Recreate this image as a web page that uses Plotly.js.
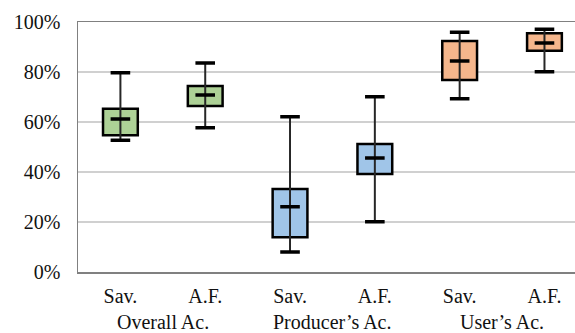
<!DOCTYPE html>
<html>
<head>
<meta charset="utf-8">
<script src="https://cdn.plot.ly/plotly-3.0.1.min.js"></script>
<style>html,body{margin:0;padding:0;background:#fff;}#chart{width:575px;height:333px;}</style>
</head>
<body>
<div id="chart"></div>
<script>
// Data
const groups = ["Overall Ac.", "Producer\u2019s Ac.", "User\u2019s Ac."];
const methods = ["Sav.", "A.F."];
const boxLabels = ["Sav.", "A.F.", "Sav.", "A.F.", "Sav.", "A.F."];
const minVals    = [0.527, 0.577, 0.080, 0.201, 0.693, 0.801];
const q1Vals     = [0.547, 0.664, 0.139, 0.392, 0.768, 0.885];
const medianVals = [0.612, 0.708, 0.261, 0.456, 0.844, 0.916];
const q3Vals     = [0.653, 0.744, 0.332, 0.512, 0.924, 0.955];
const maxVals    = [0.797, 0.836, 0.621, 0.701, 0.959, 0.971];
const groupColors = ["#ADD196", "#A0C5E8", "#F5B68C"];

const idx = boxLabels.map((_, i) => i);
const fill = idx.map(i => groupColors[Math.floor(i / methods.length)]);
const font = {family: "Liberation Serif", size: 20, color: "#111"};

const traces = [
  {
    type: "bar", x: idx, base: q1Vals, y: idx.map(i => q3Vals[i] - q1Vals[i]),
    width: 0.41, marker: {color: fill, line: {color: "#000", width: 2.5}},
    hoverinfo: "skip"
  },
  {
    type: "scatter", mode: "markers", x: idx, y: medianVals,
    marker: {symbol: "line-ew", size: 14, line: {color: "#000", width: 3.5}},
    error_y: {type: "data", symmetric: false,
      array: idx.map(i => maxVals[i] - medianVals[i]),
      arrayminus: idx.map(i => medianVals[i] - minVals[i]),
      width: 0, thickness: 2, color: "#262626"},
    hoverinfo: "skip"
  },
  {
    type: "scatter", mode: "markers", x: idx.concat(idx), y: minVals.concat(maxVals),
    marker: {symbol: "line-ew", size: 14, line: {color: "#000", width: 3.5}},
    hoverinfo: "skip"
  }
];

const annotations = groups.map((g, k) => ({
  text: g, xref: "x", yref: "paper",
  x: (k * methods.length + (k + 1) * methods.length - 1) / 2,
  y: -0.2, xanchor: "center", yanchor: "middle", showarrow: false, font: font
}));

const layout = {
  width: 575, height: 333,
  margin: {l: 78, r: 0, t: 22, b: 61},
  paper_bgcolor: "#fff", plot_bgcolor: "#fff",
  showlegend: false,
  font: font,
  xaxis: {
    range: [-0.5, 5.36], tickvals: idx, ticktext: boxLabels,
    showgrid: false, zeroline: false,
    showline: true, mirror: true, linecolor: "#808080", linewidth: 1.5,
    ticks: "outside", ticklen: 5, tickcolor: "rgba(0,0,0,0)",
    tickfont: font
  },
  yaxis: {
    range: [0, 1], dtick: 0.2, tick0: 0, tickformat: ".0%",
    showgrid: true, gridcolor: "#d0d0d0", gridwidth: 1.5,
    zeroline: false, showline: true, linecolor: "#808080", linewidth: 1.5,
    ticks: "outside", ticklen: 12, tickcolor: "rgba(0,0,0,0)",
    tickfont: font
  },
  annotations: annotations
};

Plotly.newPlot("chart", traces, layout, {staticPlot: true, displayModeBar: false});
</script>
</body>
</html>
